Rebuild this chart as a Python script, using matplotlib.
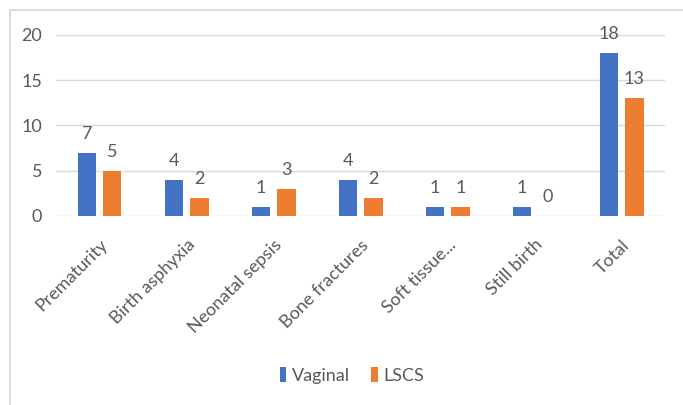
import matplotlib
matplotlib.use("Agg")
import matplotlib.pyplot as plt
import numpy as np
from matplotlib.lines import Line2D

categories = ["Prematurity", "Birth asphyxia", "Neonatal sepsis", "Bone fractures",
              "Soft tissue...", "Still birth", "Total"]
vaginal = [7, 4, 1, 4, 1, 1, 18]
lscs = [5, 2, 3, 2, 1, 0, 13]
yticks = [0, 5, 10, 15, 20]

BLUE = "#4472C4"
ORANGE = "#ED7D31"
TEXT = "#595959"
FRAME = "#D9D9D9"

plt.rcParams["font.family"] = ["Lato", "DejaVu Sans"]

fig = plt.figure(figsize=(6.83, 4.05), dpi=100)
ax = fig.add_axes([0.082, 0.467, 0.892, 0.447])

# outer chart frame (only left and top edges are visible in the crop)
fig.lines.append(Line2D([0.014, 0.014], [0.0, 0.975], transform=fig.transFigure,
                        color=FRAME, linewidth=1.3))
fig.lines.append(Line2D([0.014, 1.0], [0.975, 0.975], transform=fig.transFigure,
                        color=FRAME, linewidth=1.3))

x = np.arange(len(categories))
w = 0.215
off = 0.145
b1 = ax.bar(x - off, vaginal, w, color=BLUE, label="Vaginal", zorder=3)
b2 = ax.bar(x + off, lscs, w, color=ORANGE, label="LSCS", zorder=3)

for bars, vals in ((b1, vaginal), (b2, lscs)):
    for bar, v in zip(bars, vals):
        ax.annotate(str(v), (bar.get_x() + bar.get_width() / 2, v),
                    xytext=(0, 13.5), textcoords="offset points",
                    ha="center", va="center", fontsize=13, color=TEXT)

ax.set_xlim(-0.5, len(categories) - 0.5)
ax.set_ylim(0, 20)
ax.set_yticks(yticks)
ax.set_yticklabels([str(t) for t in yticks], fontsize=13, color=TEXT)
ax.set_xticks(x)
ax.set_xticklabels(categories, rotation=45, ha="right", rotation_mode="anchor",
                   fontsize=13, color=TEXT)
ax.tick_params(axis="both", length=0)
ax.tick_params(axis="y", pad=10)
ax.tick_params(axis="x", pad=15)
ax.grid(axis="y", color=FRAME, linewidth=1, zorder=0)
for s in ax.spines.values():
    s.set_visible(False)

fig.legend(handles=[b1, b2], labels=["Vaginal", "LSCS"], loc="center",
           bbox_to_anchor=(0.515, 0.072), ncol=2, frameon=False, fontsize=13,
           handlelength=0.35, handleheight=0.9, handletextpad=0.3, columnspacing=1.2,
           labelcolor=TEXT)

fig.savefig("out.png", dpi=100, facecolor="white")
